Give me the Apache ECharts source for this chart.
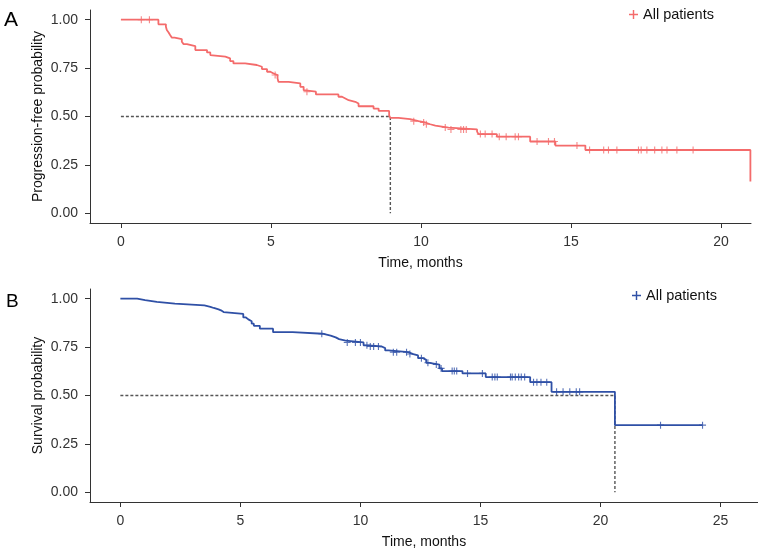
<!DOCTYPE html>
<html><head><meta charset="utf-8">
<script src="https://cdn.jsdelivr.net/npm/echarts@6/dist/echarts.min.js"></script>
<style>html,body{margin:0;padding:0;background:#fff}#c{width:758px;height:554px}</style>
</head><body><div id="c"></div>
<script>
// Panel A: progression-free survival (Kaplan-Meier steps: time, probability from that time on)
const pfsTime = [0, 1.25, 1.50, 1.53, 1.59, 1.64, 1.70, 1.79, 2.03, 2.09, 2.20, 2.48, 2.87, 2.98, 3.03, 3.48, 3.64, 3.75, 4.14, 4.53, 4.70, 4.87, 4.98, 5.09, 5.22, 5.25, 5.59, 5.98, 6.09, 6.14, 6.50, 7.25, 7.37, 7.48, 7.59, 7.81, 7.92, 8.42, 8.59, 8.94, 8.98, 9.25, 9.64, 9.92, 10.14, 10.31, 10.48, 10.53, 10.92, 11.87, 11.92, 12.53, 13.64, 14.48, 15.48, 20.98];
const pfsSurv = [1.000, 0.976, 0.964, 0.947, 0.934, 0.921, 0.907, 0.900, 0.886, 0.874, 0.864, 0.843, 0.831, 0.817, 0.809, 0.800, 0.786, 0.774, 0.766, 0.757, 0.745, 0.731, 0.722, 0.714, 0.697, 0.679, 0.671, 0.653, 0.636, 0.628, 0.614, 0.602, 0.593, 0.584, 0.576, 0.567, 0.553, 0.541, 0.529, 0.505, 0.493, 0.486, 0.476, 0.469, 0.460, 0.453, 0.448, 0.443, 0.433, 0.422, 0.409, 0.396, 0.371, 0.350, 0.327, 0.164];
const pfsCensor = [0.68, 0.95, 5.14, 6.20, 9.76, 10.09, 10.18, 10.81, 11.00, 11.33, 11.42, 11.51, 11.98, 12.14, 12.37, 12.61, 12.84, 13.14, 13.25, 13.87, 14.25, 14.45, 15.20, 15.62, 16.09, 16.25, 16.53, 17.25, 17.34, 17.53, 17.79, 18.03, 18.20, 18.53, 19.07];
const pfsMedian = 8.98;

// Panel B: overall survival
const osTime = [0, 0.70, 1.03, 1.52, 2.27, 3.50, 3.75, 3.89, 4.09, 4.19, 4.30, 5.12, 5.23, 5.33, 5.47, 5.56, 5.81, 6.36, 7.18, 8.42, 8.76, 8.97, 9.11, 9.38, 10.13, 10.34, 10.89, 11.03, 11.17, 11.99, 12.20, 12.40, 12.61, 12.74, 12.88, 13.29, 13.40, 14.25, 15.22, 17.07, 17.96, 20.60, 24.25];
const osSurv = [1.000, 0.993, 0.983, 0.974, 0.965, 0.958, 0.952, 0.945, 0.940, 0.931, 0.921, 0.903, 0.893, 0.883, 0.871, 0.860, 0.845, 0.827, 0.819, 0.809, 0.800, 0.791, 0.783, 0.774, 0.759, 0.753, 0.745, 0.733, 0.724, 0.714, 0.707, 0.693, 0.684, 0.669, 0.660, 0.640, 0.626, 0.614, 0.595, 0.569, 0.519, 0.347, 0.347];
const osCensor = [8.39, 9.45, 9.79, 10.00, 10.27, 10.41, 10.55, 10.75, 11.37, 11.51, 11.92, 12.06, 12.54, 12.81, 13.16, 13.36, 13.82, 13.91, 14.01, 14.46, 15.08, 15.49, 15.60, 15.70, 16.25, 16.32, 16.45, 16.59, 16.70, 16.84, 17.21, 17.35, 17.52, 17.76, 18.17, 18.44, 18.72, 18.99, 19.13, 22.50, 24.25];
const osMedian = 20.60;

const yTicks = [0, 0.25, 0.5, 0.75, 1];
const xTicksA = [0, 5, 10, 15, 20];
const xTicksB = [0, 5, 10, 15, 20, 25];
const legendLabel = 'All patients';
const yTitleA = 'Progression-free probability';
const yTitleB = 'Survival probability';
const xTitle = 'Time, months';

const RED = '#F46B6B';
const BLUE = '#2F50A6';
const FONT = '"Liberation Sans", Arial, Helvetica, sans-serif';
const PLUS = 'path://M4.2,0H5.8V4.2H10V5.8H5.8V10H4.2V5.8H0V4.2H4.2Z';

function stepAt(times, surv, t) {
  let v = surv[0];
  for (let i = 0; i < times.length; i++) { if (times[i] <= t) v = surv[i]; }
  return v;
}
const pairs = (a, b) => a.map((t, i) => [t, b[i]]);

function xAxis(grid, min, max, ticks) {
  return {
    gridIndex: grid, type: 'value', min: min, max: max,
    axisLine: { show: true, onZero: false, lineStyle: { color: '#333', width: 1 } },
    axisTick: { show: true, customValues: ticks, length: 5, lineStyle: { color: '#333' } },
    axisLabel: { customValues: ticks, fontSize: 14, color: '#333', fontFamily: FONT, margin: 12 },
    splitLine: { show: false },
    name: xTitle, nameLocation: 'middle', nameGap: 33, nameMoveOverlap: false,
    nameTextStyle: { fontSize: 14, color: '#111', fontFamily: FONT }
  };
}
function yAxis(grid, title) {
  return {
    gridIndex: grid, type: 'value', min: -0.05, max: 1.05,
    axisLine: { show: true, onZero: false, lineStyle: { color: '#333', width: 1 } },
    axisTick: { show: true, customValues: yTicks, length: 5, lineStyle: { color: '#333' } },
    axisLabel: { customValues: yTicks, fontSize: 14, color: '#333', fontFamily: FONT, margin: 12,
      formatter: v => v.toFixed(2) },
    splitLine: { show: false },
    name: title, nameLocation: 'middle', nameGap: 45, nameRotate: 90, nameMoveOverlap: false,
    nameTextStyle: { fontSize: 14, color: '#111', fontFamily: FONT }
  };
}
function kmSeries(name, idx, times, surv, censor, median, color) {
  return [
    { name: name, type: 'line', xAxisIndex: idx, yAxisIndex: idx, step: 'end',
      showSymbol: false, symbol: 'none', data: pairs(times, surv), color: color,
      lineStyle: { color: color, width: 1.8 }, z: 3, silent: true },
    { type: 'scatter', xAxisIndex: idx, yAxisIndex: idx, symbol: PLUS, symbolSize: 7,
      itemStyle: { color: color }, z: 4, silent: true,
      data: censor.map(t => [t, stepAt(times, surv, t)]) },
    { type: 'line', xAxisIndex: idx, yAxisIndex: idx, showSymbol: false, symbol: 'none',
      data: [[0, 0.5], [median, 0.5], [median, 0]], z: 2, silent: true,
      lineStyle: { color: '#555', width: 1.4, type: [3, 2] } }
  ];
}

const chart = echarts.init(document.getElementById('c'), null, { renderer: 'canvas' });
chart.setOption({
  animation: false,
  textStyle: { fontFamily: FONT },
  grid: [
    { left: 90, right: 7, top: 10, bottom: 331 },
    { left: 90, right: -7.3, top: 289, bottom: 52 }
  ],
  xAxis: [xAxis(0, -1.03, 21, xTicksA), xAxis(1, -1.265, 26.56, xTicksB)],
  yAxis: [yAxis(0, yTitleA), yAxis(1, yTitleB)],
  legend: [
    { data: ['PFS'], left: 629, top: 7, padding: 0, icon: PLUS, itemWidth: 9, itemHeight: 9, itemGap: 5,
      formatter: () => legendLabel, textStyle: { fontSize: 14.5, color: '#111', fontFamily: FONT },
      selectedMode: false },
    { data: ['OS'], left: 632, top: 288, padding: 0, icon: PLUS, itemWidth: 9, itemHeight: 9, itemGap: 5,
      formatter: () => legendLabel, textStyle: { fontSize: 14.5, color: '#111', fontFamily: FONT },
      selectedMode: false }
  ],
  graphic: [
    { type: 'text', left: 4, top: 10, style: { text: 'A', fontSize: 21, fill: '#000', fontFamily: FONT } },
    { type: 'text', left: 6, top: 292, style: { text: 'B', fontSize: 19, fill: '#000', fontFamily: FONT } }
  ],
  series: [
    ...kmSeries('PFS', 0, pfsTime, pfsSurv, pfsCensor, pfsMedian, RED),
    ...kmSeries('OS', 1, osTime, osSurv, osCensor, osMedian, BLUE)
  ]
});
</script>
</body></html>
